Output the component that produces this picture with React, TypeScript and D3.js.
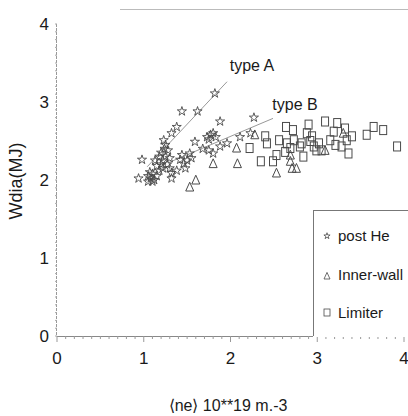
import React from "react";
import * as d3 from "d3";

// post He (stars)
const postHe: [number, number][] = [
  [0.94, 2.02], [0.98, 2.26], [1.44, 2.88], [1.62, 2.88], [1.82, 3.11],
  [2.27, 2.8], [1.88, 2.75], [1.38, 2.68], [1.32, 2.6], [1.23, 2.51],
  [1.05, 2.05], [1.08, 2.02], [1.1, 2.08], [1.12, 2.0], [1.15, 2.05],
  [1.07, 2.1], [1.18, 2.12], [1.2, 2.2], [1.22, 2.25], [1.25, 2.3],
  [1.18, 2.3], [1.2, 2.35], [1.24, 2.4], [1.28, 2.38], [1.22, 2.15],
  [1.27, 2.2], [1.3, 2.28], [1.15, 2.18], [1.13, 2.25], [1.25, 2.45],
  [1.1, 1.98], [1.05, 1.98], [1.3, 2.15], [1.32, 2.09], [1.32, 2.02],
  [1.44, 2.32], [1.46, 2.21], [1.53, 2.34], [1.59, 2.49], [1.5, 2.25],
  [1.55, 2.28], [1.48, 2.15], [1.42, 2.26], [1.38, 2.12],
  [1.73, 2.55], [1.77, 2.58], [1.8, 2.6], [1.75, 2.52], [1.83, 2.55],
  [1.75, 2.38], [1.8, 2.34], [1.88, 2.43], [1.96, 2.47], [2.11, 2.55],
  [2.23, 2.6], [1.68, 2.4],
];

// Inner-wall (triangles)
const innerWall: [number, number][] = [
  [1.53, 1.91], [1.6, 2.0], [1.8, 2.21], [2.07, 2.41], [2.08, 2.21],
  [2.28, 2.58], [2.53, 2.09], [2.69, 2.32], [2.71, 2.15], [2.76, 2.15],
  [2.69, 2.24], [3.09, 2.38], [3.3, 2.6],
];

// Limiter (squares)
const limiter: [number, number][] = [
  [2.22, 2.41], [2.4, 2.56], [2.42, 2.47], [2.35, 2.24], [2.49, 2.24],
  [2.53, 2.32], [2.64, 2.68], [2.72, 2.64], [2.56, 2.51], [2.65, 2.47],
  [2.73, 2.51], [2.63, 2.36], [2.69, 2.41], [2.82, 2.47], [2.84, 2.3],
  [2.9, 2.71], [2.88, 2.6], [2.94, 2.56], [2.96, 2.43], [2.99, 2.38],
  [3.05, 2.38], [3.09, 2.75], [3.23, 2.73], [3.19, 2.62], [3.32, 2.66],
  [3.15, 2.51], [3.21, 2.45], [3.28, 2.43], [3.34, 2.51], [3.4, 2.56],
  [3.36, 2.34], [3.57, 2.58], [3.65, 2.68], [3.76, 2.64], [3.92, 2.43],
  [2.8, 2.43], [3.02, 2.47], [2.92, 2.5],
];

const typeA: [number, number][] = [[1.04, 2.17], [1.96, 3.26]];
const typeB: [number, number][] = [[1.28, 2.22], [2.49, 2.79]];

const xTicks = [0, 1, 2, 3, 4];
const yTicks = [0, 1, 2, 3, 4];

const W = 408;
const H = 416;
const FONT = "'Liberation Sans Narrow', 'Liberation Sans', Arial, sans-serif";
const INK = "#1a1a1a";
const MARK = "#4a4a4a";

export default function App() {
  const x = d3.scaleLinear().domain([0, 4]).range([57, 404]);
  const y = d3.scaleLinear().domain([0, 4]).range([336, 24]);
  const star = d3.symbol(d3.symbolStar, 26)()!;
  const line = d3.line<[number, number]>().x((d) => x(d[0])).y((d) => y(d[1]));
  const minorX = d3.range(0, 40.5, 1).map((v) => v / 10);
  const minorY = d3.range(0, 40.5, 1).map((v) => v / 10);

  const tri = (cx: number, cy: number, s: number) =>
    `M${cx},${cy - s * 0.6}L${cx + s / 2},${cy + s * 0.5}L${cx - s / 2},${cy + s * 0.5}Z`;

  return (
    <svg width={W} height={H} style={{ position: "absolute", left: 0, top: 0, background: "#fff" }}>
      <rect width={W} height={H} fill="#fff" />
      {/* faint top frame */}
      <line x1={120} x2={408} y1={9.5} y2={9.5} stroke="#bbb" strokeWidth={1} />

      {/* y axis */}
      <line x1={56.5} x2={56.5} y1={y(4)} y2={y(0)} stroke="#999" strokeWidth={1} strokeDasharray="3,1" />
      {minorY.map((v, i) => (
        <line key={"my" + i} x1={55} x2={57} y1={y(v)} y2={y(v)} stroke="#aaa" />
      ))}
      {yTicks.map((t) => (
        <text key={"yt" + t} x={49} y={y(t)} dy="0.36em" textAnchor="end" fontSize={17} fontFamily={FONT} fill={INK}>
          {t}
        </text>
      ))}

      {/* x axis */}
      <line x1={x(0)} x2={x(4)} y1={336.5} y2={336.5} stroke="#888" strokeWidth={1} />
      {minorX.map((v, i) => (
        <line key={"mx" + i} x1={x(v)} x2={x(v)} y1={336} y2={i % 10 === 0 ? 342 : 339} stroke="#999" />
      ))}
      {xTicks.map((t) => (
        <text key={"xt" + t} x={x(t)} y={358} dy="0.36em" textAnchor="middle" fontSize={17} fontFamily={FONT} fill={INK}>
          {t}
        </text>
      ))}

      {/* titles */}
      <text x={228} y={405} dy="0.36em" textAnchor="middle" fontSize={16} fontFamily={FONT} fill={INK}>
        ⟨ne⟩ 10**19 m.-3
      </text>
      <text
        transform={`translate(16,181) rotate(-90)`}
        dy="0.36em"
        textAnchor="middle"
        fontSize={18}
        fontFamily={FONT}
        fill={INK}
      >
        Wdia(MJ)
      </text>

      {/* fit lines */}
      <path d={line(typeA)!} fill="none" stroke="#999" strokeWidth={1} />
      <path d={line(typeB)!} fill="none" stroke="#999" strokeWidth={1} />
      <text x={252} y={65} dy="0.36em" textAnchor="middle" fontSize={16} fontFamily={FONT} fill={INK}>
        type A
      </text>
      <text x={295} y={104} dy="0.36em" textAnchor="middle" fontSize={16} fontFamily={FONT} fill={INK}>
        type B
      </text>

      {/* points */}
      {limiter.map((d, i) => (
        <rect key={"l" + i} x={x(d[0]) - 3.5} y={y(d[1]) - 4.5} width={7} height={9} fill="none" stroke={MARK} strokeWidth={1} />
      ))}
      {innerWall.map((d, i) => (
        <path key={"w" + i} d={tri(x(d[0]), y(d[1]), 8)} fill="none" stroke={MARK} strokeWidth={1} />
      ))}
      {postHe.map((d, i) => (
        <path key={"s" + i} d={star} transform={`translate(${x(d[0])},${y(d[1])})`} fill="none" stroke={MARK} strokeWidth={0.9} />
      ))}

      {/* legend */}
      <rect x={313} y={210} width={W} height={127} fill="#fff" />
      <line x1={313.5} x2={313.5} y1={210} y2={336} stroke="#777" />
      <line x1={313} x2={W} y1={210.5} y2={210.5} stroke="#777" />
      <path d={d3.symbol(d3.symbolStar, 12)()!} transform="translate(327,236)" fill="none" stroke={MARK} strokeWidth={0.8} />
      <text x={338} y={236} dy="0.36em" fontSize={15} fontFamily={FONT} fill={INK}>
        post He
      </text>
      <path d={tri(327, 276, 6)} fill="none" stroke={MARK} strokeWidth={0.8} />
      <text x={338} y={275} dy="0.36em" fontSize={15} fontFamily={FONT} fill={INK}>
        Inner-wall
      </text>
      <rect x={324} y={309} width={6} height={7} fill="none" stroke={MARK} strokeWidth={0.8} />
      <text x={338} y={313} dy="0.36em" fontSize={15} fontFamily={FONT} fill={INK}>
        Limiter
      </text>
    </svg>
  );
}
